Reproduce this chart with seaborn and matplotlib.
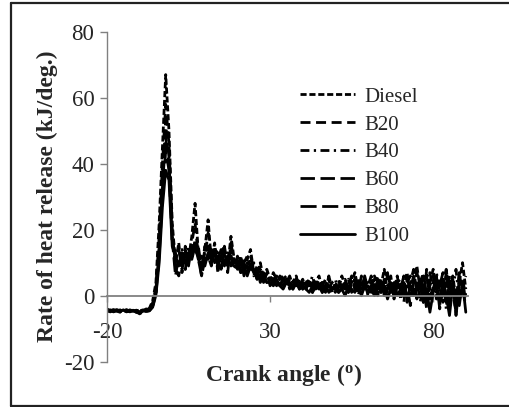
import numpy as np
import pandas as pd
import matplotlib
matplotlib.use("Agg")
import matplotlib.pyplot as plt
import seaborn as sns
from matplotlib.lines import Line2D

# crank angle, one value per degree from -20 to 90
angle = list(range(-20, 91))

diesel = [-4.2, -4.5, -4.3, -4.6, -4.4, -4.8, -4.5, -4.7, -4.4, -5.1,
          -4.6, -4.3, -4.5, -3.8, -1.5, 4, 22, 45, 67, 50,
          22, 10, 16, 7, 15, 11, 18, 28, 13, 8,
          14, 23, 10, 16, 7, 13, 15, 9, 18, 11,
          8, 12, 7, 11, 14, 7, 6, 10, 5, 8,
          5, 6, 4, 5, 6, 3, 5, 4, 6, 2,
          4, 3, 5, 1, 4, 6, 2, 3, 5, 1,
          4, 2, 6, 3, 1, 4, 7, 2, 3, 5,
          0, 4, 6, 2, 3, 8, 1, 4, 2, 6,
          -1, 3, 7, 0, 5, 9, 2, 6, -3, 4,
          8, 1, 5, -2, 7, 3, 6, -1, 4, 10,
          2]
b20 = [-4.8, -4.4, -4.9, -4.5, -4.7, -4.3, -4.9, -4.6, -4.8, -4.4,
       -5.3, -4.7, -4.4, -4.1, -2.2, 2.5, 18, 40, 58, 46,
       20, 8, 6, 12, 14, 9, 16, 22, 12, 6,
       12, 19, 11, 15, 8, 12, 14, 7, 16, 10,
       11, 7, 10, 12, 9, 6, 9, 7, 4, 7,
       6, 5, 3, 6, 4, 4, 6, 3, 5, 3,
       5, 2, 4, 2, 5, 3, 4, 1, 6, 2,
       3, 5, 1, 4, 3, 6, 2, 5, 1, 4,
       3, 6, 1, 5, 2, 4, 7, 0, 5, 3,
       2, 6, -2, 4, 8, 1, 5, 3, -4, 7,
       2, 6, -3, 4, 8, 0, 5, -2, 7, 3,
       6]
b40 = [-4.0, -4.6, -4.2, -4.8, -4.3, -4.6, -4.2, -4.9, -4.5, -4.8,
       -4.2, -4.6, -4.0, -4.2, -2.8, 1.5, 15, 36, 52, 42,
       18, 13, 9, 14, 8, 15, 11, 17, 15, 8,
       15, 12, 9, 14, 13, 8, 15, 10, 13, 8,
       12, 8, 11, 7, 12, 8, 5, 8, 6, 4,
       4, 7, 5, 3, 5, 6, 2, 5, 4, 4,
       2, 5, 3, 6, 2, 4, 3, 5, 2, 4,
       5, 1, 3, 5, 2, 3, 4, 1, 6, 2,
       5, 2, 3, 6, 1, 5, 3, 6, -1, 4,
       5, 0, 4, 6, 1, 7, 3, -2, 8, 1,
       4, 7, 1, 5, -4, 6, 2, 8, -2, 5,
       0]
b60 = [-4.5, -4.9, -4.4, -4.7, -5.0, -4.5, -4.8, -4.4, -4.7, -4.5,
       -5.0, -4.8, -4.6, -4.4, -3.0, 1.0, 14, 33, 48, 40,
       17, 6, 12, 13, 8, 14, 12, 16, 11, 6,
       11, 15, 10, 13, 11, 14, 9, 13, 12, 8,
       10, 11, 6, 10, 9, 8, 6, 5, 7, 5,
       5, 4, 6, 4, 3, 5, 4, 2, 5, 3,
       3, 4, 2, 4, 3, 5, 1, 4, 3, 2,
       2, 4, 3, 2, 5, 1, 4, 3, 2, 6,
       2, 3, 5, 0, 4, 2, 6, 3, 1, 5,
       3, -2, 5, 2, 6, -1, 4, 7, 0, 3,
       6, -1, 3, 7, -2, 4, 1, -5, 6, 2,
       -3]
b80 = [-4.7, -4.3, -4.8, -4.4, -4.9, -4.6, -4.3, -4.8, -4.5, -4.9,
       -5.5, -4.9, -4.7, -4.5, -3.2, 0.5, 12, 30, 44, 38,
       16, 11, 14, 8, 13, 10, 15, 14, 12, 9,
       13, 11, 14, 10, 12, 9, 13, 10, 12, 9,
       9, 10, 7, 9, 8, 10, 5, 7, 4, 7,
       3, 5, 4, 3, 5, 3, 4, 3, 3, 5,
       2, 3, 4, 1, 3, 2, 4, 2, 3, 3,
       1, 3, 2, 4, 1, 3, 5, 0, 4, 2,
       3, 1, 4, 2, 5, 0, 3, 4, -1, 3,
       4, 1, 3, -3, 4, 5, -2, 3, 6, -1,
       3, 5, -4, 2, 6, -3, 4, -6, 3, 5,
       -2]
b100 = [-4.3, -4.7, -4.5, -4.2, -4.6, -4.4, -4.7, -4.3, -4.6, -4.4,
        -4.9, -4.5, -4.8, -4.6, -3.5, 0.2, 10, 27, 38, 35,
        15, 12, 9, 13, 10, 12, 11, 15, 11, 12,
        9, 13, 11, 13, 9, 12, 10, 12, 9, 11,
        10, 7, 9, 6, 9, 7, 8, 4, 6, 4,
        4, 3, 5, 3, 2, 4, 3, 2, 4, 2,
        3, 2, 1, 3, 2, 3, 1, 3, 1, 2,
        3, 1, 2, 0, 3, 2, 1, 4, 0, 3,
        1, 2, 0, 4, 1, 3, -1, 2, 4, 0,
        2, 4, -1, 3, 0, 2, 5, -2, 2, -5,
        1, 3, -2, 5, 0, -6, 3, 1, -3, 4,
        -5]

fuels = ['Diesel', 'B20', 'B40', 'B60', 'B80', 'B100']
series = [diesel, b20, b40, b60, b80, b100]

df = pd.concat([pd.DataFrame({'angle': angle, 'hrr': s, 'fuel': f})
                for f, s in zip(fuels, series)], ignore_index=True)

sns.set_style("white")
plt.rcParams['font.family'] = ['Liberation Serif', 'DejaVu Serif']
plt.rcParams['axes.unicode_minus'] = False

dash_map = {'Diesel': (2.2, 1.0), 'B20': (3.6, 2.0), 'B40': (3.2, 1.6, 0.8, 1.6),
            'B60': (5.2, 2.0), 'B80': (5.8, 2.0), 'B100': ''}

fig = plt.figure(figsize=(5.10, 4.07), dpi=100)
ax = fig.add_axes([0.2098, 0.1113, 0.708, 0.8108])

sns.lineplot(data=df, x='angle', y='hrr', style='fuel', style_order=fuels,
             dashes=dash_map, color='black', lw=2.0, estimator=None,
             legend=False, ax=ax)

ax.set_xlim(-20, 90.7)
ax.set_ylim(-20, 80)
ax.set_xticks([-20, 30, 80])
ax.set_yticks([-20, 0, 20, 40, 60, 80])

for s in ['top', 'right']:
    ax.spines[s].set_visible(False)
ax.spines['bottom'].set_position(('data', 0))
ax.spines['bottom'].set_color('#808080')
ax.spines['left'].set_color('#808080')
ax.spines['bottom'].set_linewidth(1.3)
ax.spines['left'].set_linewidth(1.0)
ax.tick_params(axis='y', direction='out', length=5, width=1, color='#808080',
               labelsize=16.5, pad=4, left=True)
ax.tick_params(axis='x', direction='out', length=4, width=1, color='#808080',
               labelsize=16.5, pad=15, bottom=True)
ax.set_xlabel('Crank angle ($\\mathregular{^o}$)', fontsize=17, fontweight='bold')
ax.set_ylabel('Rate of heat release (kJ/deg.)', fontsize=17, fontweight='bold', labelpad=4)
ax.xaxis.set_label_coords(0.49, -0.04)
ax.xaxis.label.set_va('center')

handles = ax.lines[:6]
for h in handles:
    h.set_color('black')
ax.legend(handles, fuels, loc='upper left', bbox_to_anchor=(300 / 510, 1 - 87 / 407),
          bbox_transform=fig.transFigure, frameon=False, fontsize=15,
          handlelength=2.65, handletextpad=0.45, labelspacing=0.4,
          borderpad=0, borderaxespad=0)

# outer frame (top, left, bottom)
fig.add_artist(Line2D([11 / 510, 1], [1 - 3 / 407, 1 - 3 / 407], color='#222222', lw=1.6,
                      transform=fig.transFigure))
fig.add_artist(Line2D([11 / 510, 11 / 510], [1.3 / 407, 1 - 3 / 407], color='#222222', lw=1.6,
                      transform=fig.transFigure))
fig.add_artist(Line2D([11 / 510, 1], [1.3 / 407, 1.3 / 407], color='#222222', lw=1.6,
                      transform=fig.transFigure))

fig.savefig('out.png', dpi=100)
